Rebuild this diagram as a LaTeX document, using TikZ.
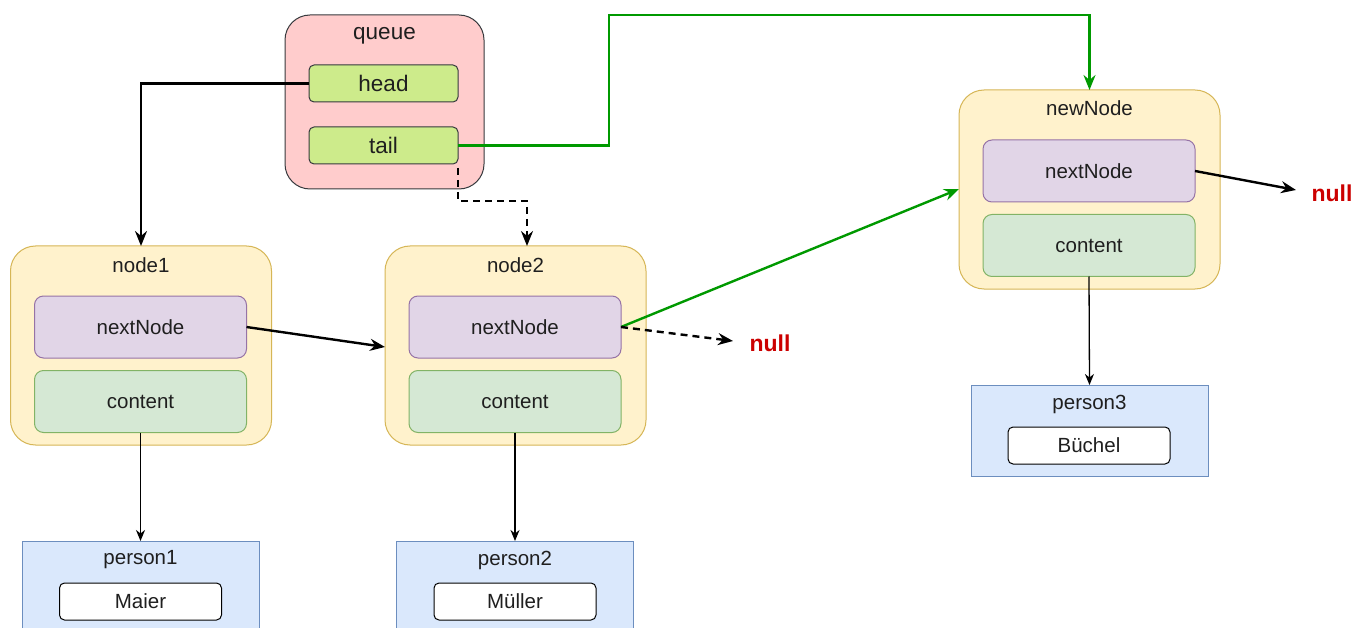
\documentclass[tikz,border=0pt]{standalone}
\usepackage{fontspec}
\setmainfont{Liberation Sans}
\usetikzlibrary{arrows.meta}
\definecolor{qfill}{HTML}{FFCCCC}
\definecolor{qdraw}{HTML}{36393D}
\definecolor{hfill}{HTML}{CDEB8B}
\definecolor{yfill}{HTML}{FFF2CC}
\definecolor{ydraw}{HTML}{D6B656}
\definecolor{pfill}{HTML}{E1D5E7}
\definecolor{pdraw}{HTML}{9673A6}
\definecolor{gfill}{HTML}{D5E8D4}
\definecolor{gdraw}{HTML}{82B366}
\definecolor{bfill}{HTML}{DAE8FC}
\definecolor{bdraw}{HTML}{6C8EBF}
\definecolor{nullred}{HTML}{CC0000}
\definecolor{arrgreen}{HTML}{009900}
\tikzset{
  every node/.style={inner sep=0pt, outer sep=0pt, font=\fontsize{20.5}{24}\selectfont, text=black!88},
  container/.style={draw=ydraw, fill=yfill, rounded corners=25pt, line width=1pt, minimum width=261pt, minimum height=199pt},
  qbox/.style={draw=qdraw, fill=qfill, rounded corners=25pt, line width=1pt, minimum width=199pt, minimum height=174pt},
  field/.style={draw=qdraw, fill=hfill, rounded corners=5pt, line width=1pt, minimum width=149pt, minimum height=37pt, font=\fontsize{22.5}{26}\selectfont},
  nextbox/.style={draw=pdraw, fill=pfill, rounded corners=9pt, line width=1pt, minimum width=212pt, minimum height=62pt},
  contbox/.style={draw=gdraw, fill=gfill, rounded corners=9pt, line width=1pt, minimum width=212pt, minimum height=62pt},
  personbox/.style={draw=bdraw, fill=bfill, line width=1pt, minimum width=237pt},
  namebox/.style={draw=black, fill=white, rounded corners=5pt, line width=1pt, minimum width=162pt, minimum height=37pt},
  nulltext/.style={text=nullred, font=\fontsize{23}{26}\selectfont\bfseries},
  thick arrow/.style={draw=black, line width=2.4pt, -{Stealth[length=15pt,width=12pt,inset=5pt]}},
  green arrow/.style={draw=arrgreen, line width=2.4pt, -{Stealth[length=15pt,width=12pt,inset=5pt]}},
  dash arrow/.style={draw=black, line width=2.4pt, dash pattern=on 7pt off 5pt, -{Stealth[length=15pt,width=12pt,inset=5pt]}},
  thin arrow/.style={draw=black, line width=1.3pt, -{Stealth[length=11pt,width=9pt,inset=3.5pt]}},
}
\begin{document}
\begin{tikzpicture}[x=1pt,y=-1pt]
\useasboundingbox (0,0) rectangle (1354,628);
\clip (0,0) rectangle (1354,628);
\fill[white] (0,0) rectangle (1354,628);

% queue
\node[qbox] (queue) at (384.5,102) {};
\node (queuelbl) at (384.5,36) {\fontsize{22.5}{26}\selectfont queue};
\node[field] (head) at (383.5,83.5) {head};
\node[field] (tail) at (383.5,145.5) {tail};

% node1
\node[container] (node1) at (141,345.5) {};
\node (node1lbl) at (141,265) {node1};
\node[nextbox] (next1) at (140.5,327) {nextNode};
\node[contbox] (cont1) at (140.5,401.5) {content};

% node2
\node[container] (node2) at (515.5,345.5) {};
\node (node2lbl) at (515.5,265) {node2};
\node[nextbox] (next2) at (515,327) {nextNode};
\node[contbox] (cont2) at (515,401.5) {content};

% newNode
\node[container] (node3) at (1089.5,189.5) {};
\node (node3lbl) at (1089.5,108) {newNode};
\node[nextbox] (next3) at (1089,171) {nextNode};
\node[contbox] (cont3) at (1089,245.5) {content};

% persons
\node[personbox, minimum height=110pt] (person1) at (140.5,596) {};
\node (person1lbl) at (140.5,560) {person1};
\node[namebox] (name1) at (140.5,601.5) {Maier};

\node[personbox, minimum height=110pt] (person2) at (515,596) {};
\node (person2lbl) at (515,560) {person2};
\node[namebox] (name2) at (515,601.5) {Müller};

\node[personbox, minimum height=91pt] (person3) at (1089.5,430.5) {};
\node (person3lbl) at (1089.5,404) {person3};
\node[namebox] (name3) at (1089,445.5) {Büchel};

% null labels
\node[nulltext] (null1) at (770,343) {null};
\node[nulltext] (null2) at (1332,193) {null};
\coordinate (nullend1) at (733,341);
\coordinate (nullend2) at (1296,190);
\coordinate (dashtop) at (527,201);

% connectors
\draw[thick arrow] (head.west) -| (node1.north);
\draw[green arrow] (tail.east) -- (609,145.5) |- (1089.5,15) -- (node3.north);
\draw[dash arrow] ([yshift=-4pt]tail.south east) |- (dashtop) -- (dashtop |- node2.north);
\draw[thick arrow] (next1.east) -- (node2.west |- 0,347);
\draw[green arrow] (next2.east) -- (node3.west |- 0,189);
\draw[dash arrow] (next2.east) -- (nullend1);
\draw[thick arrow] (next3.east) -- (nullend2);
\draw[thin arrow] (cont1.south) -- (person1.north);
\draw[thin arrow] (cont2.south) -- (person2.north);
\draw[thin arrow] (cont3.south) -- (person3.north);
\end{tikzpicture}
\end{document}
